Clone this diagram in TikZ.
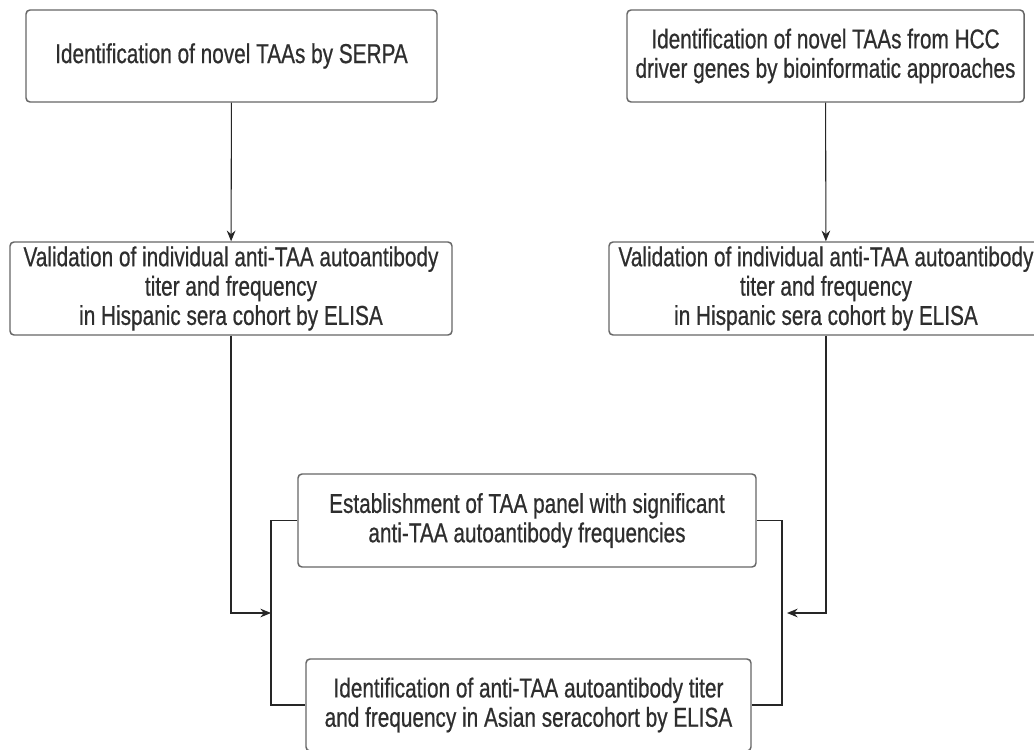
\documentclass[tikz,border=0pt]{standalone}
\usepackage{fontspec}
\setmainfont{Liberation Sans}[FakeStretch=0.76, FakeBold=0.6]
\usetikzlibrary{arrows.meta, calc}
\tikzset{%
    box/.style={draw=black!60, line width=1.1pt, rounded corners=3pt, fill=white, align=center,
                text=black!82, inner sep=0pt, font=\fontsize{20.5}{22}\selectfont},
    con/.style={line width=0.8pt, draw=black!85},
    cona/.style={line width=0.8pt, draw=black!85, -{Stealth[length=8pt, width=6.5pt]}},
}

\begin{document}
\begin{tikzpicture}[x=0.75pt, y=-0.75pt]
    \clip (0,0) rectangle (1034,749);
    \fill [white] (0,0) rectangle (1034,749);
    % first row
    \node [box, minimum width=411*0.75pt, minimum height=92*0.75pt] (serpa) at (231.5,56) {Identification of novel TAAs by SERPA};
    \node [box, minimum width=397*0.75pt, minimum height=92*0.75pt] (hcc) at (825.5,56) {Identification of novel TAAs from HCC\\driver genes by bioinformatic approaches};
    % validation
    \node [box, minimum width=442*0.75pt, minimum height=93*0.75pt] (valL) at (231,288.5) {Validation of individual anti-TAA autoantibody\\titer and frequency\\in Hispanic sera cohort by ELISA};
    \node [box, minimum width=434*0.75pt, minimum height=93*0.75pt] (valR) at (826,288.5) {Validation of individual anti-TAA autoantibody\\titer and frequency\\in Hispanic sera cohort by ELISA};
    % panel and asian cohort
    \node [box, minimum width=458*0.75pt, minimum height=93*0.75pt] (panel) at (527,520.5) {Establishment of TAA panel with significant\\anti-TAA autoantibody frequencies};
    \node [box, minimum width=445*0.75pt, minimum height=92*0.75pt] (asian) at (528.5,705) {Identification of anti-TAA autoantibody titer\\and frequency in Asian seracohort by ELISA};
    \coordinate (lj) at (271,613);
    \coordinate (rj) at (782,613);
    % bracket
    \draw [con] (panel.west) -| (lj) |- (asian.west);
    \draw [con] (panel.east) -| (rj) |- (asian.east);
    \draw [cona] (serpa) -- (valL);
    \draw [cona] (hcc) -- (valR);
    \draw [cona] (valL.south) |- (lj);
    \draw [cona] (valR.south) |- ($(rj)+(5,0)$);
\end{tikzpicture}
\end{document}
